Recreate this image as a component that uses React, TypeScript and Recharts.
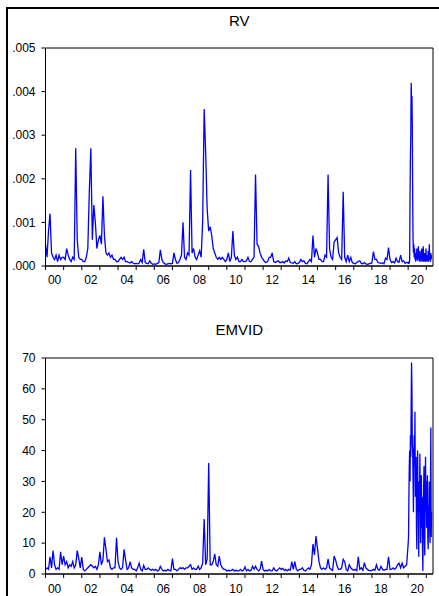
import React from 'react';
import { LineChart, Line, XAxis, YAxis, ReferenceArea } from 'recharts';

const FONT = '"Liberation Sans", Arial, Helvetica, sans-serif';

// ---------- data ----------
const yearTicks = [2000, 2001, 2002, 2003, 2004, 2005, 2006, 2007, 2008, 2009, 2010, 2011, 2012, 2013, 2014, 2015, 2016, 2017, 2018, 2019, 2020, 2021];
const rvTicks = [0, 0.001, 0.002, 0.003, 0.004, 0.005];
const emvidTicks = [0, 10, 20, 30, 40, 50, 60, 70];

// RV, monthly, Jan 2000 .. Dec 2019
const rvMonthly = [
  .0005, .0002, .0008, .0012, .0003, .0002, .00015, .00025, .0001, .00025, .00015, .0002,
  .0002, .00015, .0004, .00025, .00015, .0001, .0002, .00015, .0027, .0006, .0002, .00015,
  .00015, .0001, .0001, .0002, .0004, .0017, .0027, .0006, .0014, .001, .0004, .0006,
  .0007, .0005, .0016, .0007, .0003, .00025, .0003, .0002, .00025, .00015, .00015, .0001,
  .0001, .00015, .0002, .00015, .0002, .0001, .0001, .00008, .00007, .0001, .00007, .00005,
  .00006, .00005, .00007, .00015, .00008, .00038, .00008, .00006, .00005, .00012, .00006, .00004,
  .00005, .00004, .00006, .00008, .00037, .00015, .00008, .00005, .00004, .00005, .00006, .00005,
  .00006, .0003, .00015, .00006, .00008, .00015, .00025, .001, .0002, .00015, .0003, .00025,
  .0022, .0003, .0004, .0002, .00015, .00025, .00035, .0002, .001, .0036, .0026, .0013,
  .0008, .0009, .0007, .0004, .0003, .0002, .00015, .0002, .00015, .0002, .00015, .0001,
  .00015, .0003, .0001, .0002, .0008, .00025, .00015, .0002, .0001, .0001, .00015, .0001,
  .0001, .00012, .0002, .0001, .0001, .00015, .0002, .0021, .0005, .00045, .0003, .0002,
  .00015, .0001, .00008, .0001, .0002, .0002, .0003, .0001, .00008, .0001, .00012, .00008,
  .00008, .0001, .00007, .00012, .0001, .00018, .00008, .00007, .00006, .0001, .00005, .00006,
  .00008, .00015, .0001, .00012, .00006, .00005, .0001, .00015, .0001, .0007, .0002, .0004,
  .0003, .00015, .00015, .0001, .0001, .00025, .0002, .0021, .0004, .0002, .00015, .00055,
  .0006, .00065, .0003, .0002, .00015, .0017, .0002, .0001, .00025, .0001, .0002, .00008,
  .00006, .00005, .00008, .0001, .00012, .00006, .00005, .00008, .00005, .00004, .00005, .00006,
  .00007, .00033, .00015, .00015, .00008, .00007, .00006, .00007, .00005, .00018, .00015, .00042,
  .00015, .00008, .0001, .00007, .00018, .0001, .00009, .00025, .0001, .00012, .00006, .00008,
];

// RV, roughly weekly (4 per month), Jan 2020 .. Apr 2021
const rvWeekly2020 = [
  .00008, .00005, .0001, .00006, .00015, .0016, .0025, .003, .0042, .0038,
  .0039, .0032, .0015, .0006, .0003, .0005, .0002, .0004, .00015, .0003,
  .0001, .00025, .00015, .0004, .0002, .00012, .0003, .00045, .00015, .00025,
  .0001, .00035, .00015, .0002, .0001, .0003, .0004, .00012, .0002, .0001,
  .00045, .0002, .0001, .0003, .00015, .00025, .0001, .0004, .00015, .0002,
  .0001, .00025, .00012, .00035, .0001, .0002, .0005, .00015, .0002, .0001,
  .0003, .00015, .00025,
];

// EMVID, monthly, Jan 2000 .. Dec 2019
const emvidMonthly = [
  1.5, 2, 1.5, 5.6, 2, 7.6, 3, 1.5, 2, 1.5, 7.2, 3,
  5.8, 3, 4, 2, 3, 2.5, 4, 2, 3, 7.6, 5, 2,
  5.5, 1.5, 1, 1.5, 2, 2.5, 3, 2.5, 2, 2.5, 1.5, 3,
  7.2, 3, 4.5, 11.9, 8, 4, 4.5, 2, 1.5, 2, 2, 11.7,
  4, 2, 1.5, 2, 8, 4.5, 1.5, 2, 4, 2, 1.5, 1.5,
  1, 2, 3.5, 1.5, 1, 2.8, 1.5, 1.5, 2, 1.5, 1.2, 1.5,
  1.2, 1.5, 1, 1.2, 2.5, 1.5, 1, 1.2, 1, 1.5, 1.2, 1,
  5, 1.5, 1.5, 1, 1.5, 2, 1.8, 2, 1.5, 2, 2, 2.5,
  3, 1.5, 2, 1.5, 1.5, 2.5, 1.5, 2, 3.5, 17.8, 3, 5,
  36, 3, 3, 4, 6.5, 3, 2.5, 5.8, 3, 2, 1.5, 1.5,
  1, 1.2, 1, 1.2, 1.5, 1, 1.2, 1, 1, 1.5, 1, 1.2,
  2.3, 1, 1.5, 1, 1.2, 2.5, 1.5, 2.5, 1.5, 1, 1.5, 4.2,
  1.5, 1, 1.2, 1, 1.5, 1, 1, 2, 1.2, 1, 1.5, 2,
  1.5, 1.8, 1.2, 1.5, 1, 1.5, 1.2, 4, 1.5, 4, 1.5, 1,
  1.5, 1.5, 2, 1.2, 1, 1.5, 2, 1.5, 3, 9.7, 6.2, 12.3,
  8.3, 4, 2, 1.5, 2, 1.5, 2, 4.9, 2, 1.5, 1.2, 5.8,
  4.5, 2.5, 1.5, 1.5, 2, 4.8, 4, 1.5, 1, 3, 2, 1.5,
  1.2, 1.5, 1, 5.6, 1.5, 2, 1.2, 3.7, 2, 1.5, 1.2, 1,
  1.2, 1.5, 1.2, 3, 1.5, 1.2, 2.5, 1.5, 1.2, 1.5, 1.5, 5.6,
  1.5, 1.5, 2, 1.5, 2, 3, 3.5, 2, 3.5, 2, 2.5, 3,
];

// EMVID, roughly weekly (4 per month), Jan 2020 .. Apr 2021
const emvidWeekly2020 = [
  9.7, 12, 25, 35, 40, 30, 45, 38, 55, 68.5,
  60, 42, 40, 30, 20, 38, 45, 35, 52.6, 25,
  30, 38, 15, 8, 25, 40, 20, 30, 5.6, 28,
  20, 39, 25, 10, 22, 32, 15, 25, 8, 1,
  20, 28, 35, 12, 6, 25, 38, 20, 30, 15,
  25, 32, 12, 8, 22, 18, 30, 14, 10, 25,
  47.5, 12, 20,
];

// ---------- layout ----------
const X_MIN = 2000;
const X_MAX = 2021.37;
const CHART_W = 439;
const Y_AXIS_W = 45.5;
const RIGHT_M = 6;
const PLOT_W = CHART_W - Y_AXIS_W - RIGHT_M;
const HALF_YEAR_PX = PLOT_W / (X_MAX - X_MIN) / 2;

function buildRows(monthly: number[], weekly: number[]) {
  const rows: { t: number; v: number }[] = [];
  monthly.forEach((v, i) => rows.push({ t: 2000 + i / 12, v }));
  weekly.forEach((v, i) => rows.push({ t: 2020 + i / 48, v }));
  return rows;
}

const rvRows = buildRows(rvMonthly, rvWeekly2020);
const emvidRows = buildRows(emvidMonthly, emvidWeekly2020);

const makeYearTick = (dy: number) => (props: any) => {
  const { x, y, payload } = props;
  const yr = Number(payload.value);
  if (yr % 2 !== 0) return <g />;
  const label = String(yr % 100).padStart(2, '0');
  return (
    <text x={x + HALF_YEAR_PX} y={y} dy={dy} textAnchor="middle" fontSize={12} fontFamily={FONT} fill="#000">
      {label}
    </text>
  );
};

type PanelProps = {
  rows: { t: number; v: number }[];
  yMax: number;
  yTicks: number[];
  fmt: (v: number) => string;
  height: number;
  marginTop: number;
  xAxisH: number;
  labelDy: number;
};

function Panel({ rows, yMax, yTicks, fmt, height, marginTop, xAxisH, labelDy }: PanelProps) {
  return (
    <LineChart
      width={CHART_W}
      height={height}
      data={rows}
      margin={{ top: marginTop, right: RIGHT_M, bottom: 0, left: 0 }}
    >
      <XAxis
        dataKey="t"
        type="number"
        domain={[X_MIN, X_MAX]}
        ticks={yearTicks}
        interval={0}
        allowDataOverflow
        height={xAxisH}
        tickSize={4}
        stroke="#000"
        axisLine={{ stroke: '#000' }}
        tickLine={{ stroke: '#000' }}
        tick={makeYearTick(labelDy)}
      />
      <YAxis
        type="number"
        domain={[0, yMax]}
        ticks={yTicks}
        interval={0}
        allowDataOverflow
        width={Y_AXIS_W}
        tickSize={4}
        tickMargin={6}
        stroke="#000"
        axisLine={{ stroke: '#000' }}
        tickLine={{ stroke: '#000' }}
        tickFormatter={fmt}
        tick={{ fontSize: 12, fill: '#000', fontFamily: FONT }}
      />
      <Line
        type="linear"
        dataKey="v"
        stroke="#0000ff"
        strokeWidth={1.3}
        dot={false}
        activeDot={false}
        isAnimationActive={false}
      />
      <ReferenceArea x1={X_MIN} x2={X_MAX} y1={0} y2={yMax} fill="none" fillOpacity={0} stroke="#000" strokeWidth={1} />
    </LineChart>
  );
}

const titleStyle = (top: number): React.CSSProperties => ({
  position: 'absolute',
  left: Y_AXIS_W,
  width: PLOT_W,
  top,
  textAlign: 'center',
  fontFamily: FONT,
  fontSize: 15,
  lineHeight: '15px',
  color: '#000',
});

export default function App() {
  return (
    <div style={{ position: 'absolute', left: 0, top: 0, width: 439, height: 596, background: '#fff', overflow: 'hidden' }}>
      <div
        style={{
          position: 'absolute',
          left: 6,
          top: 7,
          width: 433,
          height: 589,
          borderLeft: '2px solid #000',
          borderTop: '2px solid #000',
          boxSizing: 'border-box',
        }}
      />
      <div style={{ position: 'absolute', left: 0, top: 0 }}>
        <Panel
          rows={rvRows}
          yMax={0.005}
          yTicks={rvTicks}
          fmt={(v) => v.toFixed(3).replace(/^0/, '')}
          height={300}
          marginTop={48}
          xAxisH={34}
          labelDy={12}
        />
      </div>
      <div style={titleStyle(13)}>RV</div>
      <div style={{ position: 'absolute', left: 0, top: 300 }}>
        <Panel
          rows={emvidRows}
          yMax={70}
          yTicks={emvidTicks}
          fmt={(v) => String(v)}
          height={296}
          marginTop={58}
          xAxisH={22}
          labelDy={13}
        />
      </div>
      <div style={titleStyle(322)}>EMVID</div>
    </div>
  );
}
